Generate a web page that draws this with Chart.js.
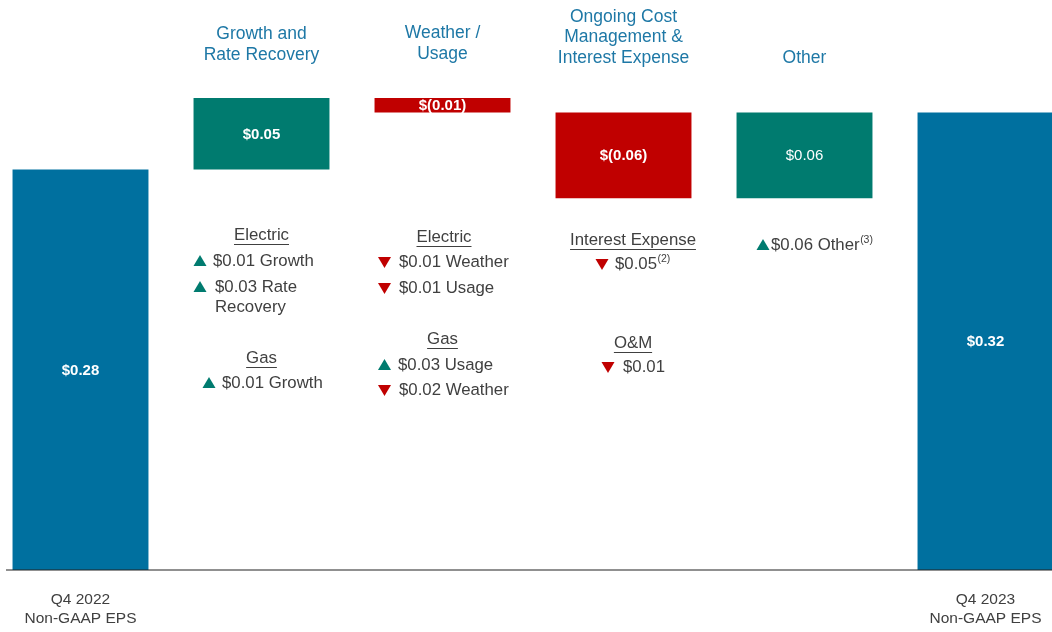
<!DOCTYPE html>
<html>
<head>
<meta charset="utf-8">
<script src="https://cdn.jsdelivr.net/npm/chart.js@4.4.0/dist/chart.umd.min.js"></script>
<style>
  body { margin: 0; background: #fff; overflow: hidden; }
  #wrap { position: absolute; left: -10px; top: 0; width: 1086px; height: 632px; }
</style>
</head>
<body>
<div id="wrap"><canvas id="myChart"></canvas></div>
<script>
// Dữ liệu
var categories = [
  ["Q4 2022", "Non-GAAP EPS"],
  ["Growth and", "Rate Recovery"],
  ["Weather /", "Usage"],
  ["Ongoing Cost", "Management &", "Interest Expense"],
  ["Other"],
  ["Q4 2023", "Non-GAAP EPS"]
];
var startEps = 0.28;
var changes = [0.05, -0.01, -0.06, 0.06];
var endEps = 0.32;
var valueLabels = ["$0.28", "$0.05", "$(0.01)", "$(0.06)", "$0.06", "$0.32"];

// ghi chú dưới mỗi cột: [kiểu, chữ, chỉ số trên]
var notes = [
  [],
  [["head", "Electric"], ["up", "$0.01 Growth"], ["up", "$0.03 Rate"], ["text", "Recovery"], ["head", "Gas"], ["up", "$0.01 Growth"]],
  [["head", "Electric"], ["down", "$0.01 Weather"], ["down", "$0.01 Usage"], ["head", "Gas"], ["up", "$0.03 Usage"], ["down", "$0.02 Weather"]],
  [["head", "Interest Expense"], ["down", "$0.05", "(2)"], ["head", "O&M"], ["down", "$0.01"]],
  [["up", "$0.06 Other", "(3)"]],
  []
];

// vị trí ghi chú: [dx chữ, y, dx tam giác]
var noteLayout = [
  [],
  [[0, 235], [-48.5, 261, -61.5], [-46.5, 287, -61.5], [-46.5, 307], [0, 358], [-39.5, 383, -52.5]],
  [[1.5, 237], [-43.5, 262, -58], [-43.5, 288, -58], [0, 339], [-44.5, 365, -58], [-43.5, 390, -58]],
  [[9.5, 240], [-8.5, 264, -21.5], [9.5, 343], [-0.5, 367, -15.5]],
  [[-33.5, 245, -41.5]],
  []
];
var titleBottom = [null, 55, 54, 58, 58, null];
var valueBold = [true, true, true, true, false, true];

var BLUE = "#00709F", TEAL = "#007B6F", RED = "#C00000";
var TEXT = "#404040", TITLE = "#1E78A6";
var FONT = '"Liberation Sans", Arial, sans-serif';

// tính các thanh nổi
var bars = [[0, startEps]];
var colors = [BLUE];
var run = startEps;
changes.forEach(function (c) {
  var next = Math.round((run + c) * 100) / 100;
  bars.push([run, next]);
  colors.push(c >= 0 ? TEAL : RED);
  run = next;
});
bars.push([0, endEps]);
colors.push(BLUE);

var labelsPlugin = {
  id: "labels",
  afterDatasetsDraw: function (chart) {
    var ctx = chart.ctx;
    var xs = chart.scales.x, ys = chart.scales.y;
    var meta = chart.getDatasetMeta(0);
    ctx.save();

    // đường đáy
    var y0 = ys.getPixelForValue(0);
    ctx.strokeStyle = "#222";
    ctx.lineWidth = 1.2;
    ctx.beginPath();
    ctx.moveTo(xs.getPixelForValue(0) - 74.5, y0);
    ctx.lineTo(chart.chartArea.right, y0);
    ctx.stroke();

    ctx.textAlign = "center";
    ctx.textBaseline = "middle";
    categories.forEach(function (lines, i) {
      var cx = xs.getPixelForValue(i);
      // nhãn giá trị
      var el = meta.data[i];
      ctx.fillStyle = "#fff";
      ctx.font = (valueBold[i] ? "bold " : "") + "15px " + FONT;
      ctx.fillText(valueLabels[i], cx, (el.y + el.base) / 2 + 1);

      // tiêu đề
      if (titleBottom[i] !== null) {
        ctx.fillStyle = TITLE;
        ctx.font = "17.5px " + FONT;
        lines.forEach(function (t, k) {
          ctx.fillText(t, cx, titleBottom[i] - (lines.length - 1 - k) * 20.5);
        });
      } else {
        ctx.fillStyle = TEXT;
        ctx.font = "15.5px " + FONT;
        lines.forEach(function (t, k) {
          ctx.fillText(t, cx, 600 + k * 19);
        });
      }

      // ghi chú
      notes[i].forEach(function (n, k) {
        var lay = noteLayout[i][k];
        var y = lay[1];
        ctx.font = "16.8px " + FONT;
        ctx.fillStyle = TEXT;
        if (n[0] === "head") {
          ctx.textAlign = "center";
          ctx.fillText(n[1], cx + lay[0], y);
          var w = ctx.measureText(n[1]).width;
          ctx.strokeStyle = TEXT;
          ctx.lineWidth = 1;
          ctx.beginPath();
          ctx.moveTo(cx + lay[0] - w / 2, y + 9.5);
          ctx.lineTo(cx + lay[0] + w / 2, y + 9.5);
          ctx.stroke();
          return;
        }
        ctx.textAlign = "left";
        var tx = cx + lay[0];
        ctx.fillText(n[1], tx, y);
        if (n[2]) {
          var tw = ctx.measureText(n[1]).width;
          ctx.font = "10.5px " + FONT;
          ctx.fillText(n[2], tx + tw + 0.5, y - 5);
        }
        if (n[0] === "up" || n[0] === "down") {
          var mx = cx + lay[2];
          ctx.fillStyle = n[0] === "up" ? TEAL : RED;
          ctx.beginPath();
          if (n[0] === "up") {
            ctx.moveTo(mx, y - 6);
            ctx.lineTo(mx + 6.5, y + 5);
            ctx.lineTo(mx - 6.5, y + 5);
          } else {
            ctx.moveTo(mx - 6.5, y - 5);
            ctx.lineTo(mx + 6.5, y - 5);
            ctx.lineTo(mx, y + 6);
          }
          ctx.closePath();
          ctx.fill();
        }
        ctx.textAlign = "center";
      });
    });
    ctx.restore();
  }
};

var ctx = document.getElementById("myChart").getContext("2d");
var myChart = new Chart(ctx, {
  type: "bar",
  data: {
    labels: categories,
    datasets: [{
      data: bars,
      backgroundColor: colors,
      borderWidth: 0,
      barPercentage: 0.751,
      categoryPercentage: 1
    }]
  },
  options: {
    responsive: true,
    maintainAspectRatio: false,
    animation: false,
    layout: { padding: { top: 0, bottom: 62, left: 0, right: 0 } },
    plugins: { legend: { display: false }, tooltip: { enabled: false } },
    scales: {
      x: { display: false, offset: true },
      y: { display: false, min: 0, max: 0.3986 }
    }
  },
  plugins: [labelsPlugin]
});
</script>
</body>
</html>
